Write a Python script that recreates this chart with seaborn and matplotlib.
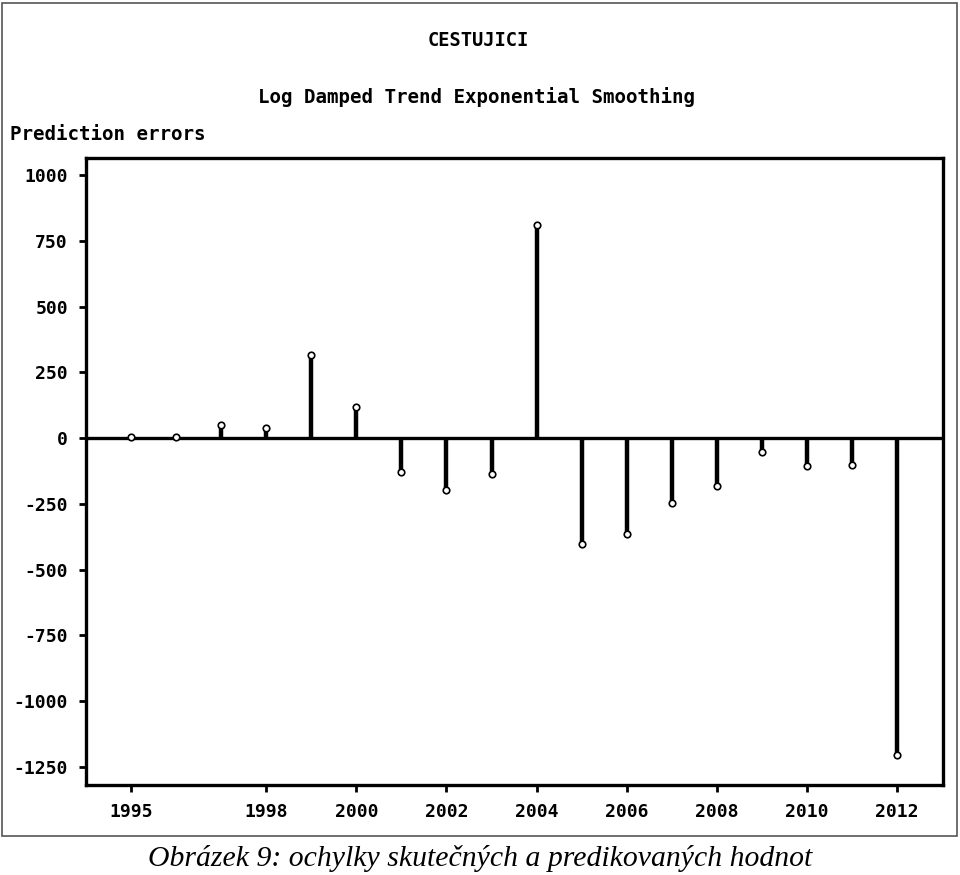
import matplotlib
matplotlib.use("Agg")
import matplotlib.pyplot as plt
import seaborn as sns
import pandas as pd
from matplotlib.patches import Rectangle

years = [1995, 1996, 1997, 1998, 1999, 2000, 2001, 2002, 2003,
         2004, 2005, 2006, 2007, 2008, 2009, 2010, 2011, 2012]
errors = [5, 3, 49, 38, 316, 118, -129, -198, -137,
          810, -403, -365, -247, -182, -53, -106, -103, -1205]
xticks = [1995, 1998, 2000, 2002, 2004, 2006, 2008, 2010, 2012]
yticks = [1000, 750, 500, 250, 0, -250, -500, -750, -1000, -1250]

df = pd.DataFrame({'year': years, 'error': errors})

sns.set_style("ticks")
plt.rcParams['font.family'] = ['DejaVu Sans Mono', 'DejaVu Sans']
plt.rcParams['text.color'] = 'black'

fig = plt.figure(figsize=(9.6, 8.75), dpi=100)
ax = fig.add_axes([86/960, 1-785/875, (943-86)/960, (785-158)/875])

ax.axhline(0, color='black', lw=2.4, zorder=1)
ax.vlines(df['year'], 0, df['error'], color='black', lw=3.2, zorder=2)
sns.scatterplot(data=df, x='year', y='error', ax=ax, marker='o', s=22,
                facecolor='white', edgecolor='black', linewidth=1.2, zorder=3)

ax.set_xlim(1994.0, 2013.02)
ax.set_ylim(-1319, 1065)
ax.set_xticks(xticks)
ax.set_yticks(yticks)
ax.set_xticklabels([str(t) for t in xticks], fontweight='bold', fontsize=13)
ax.set_yticklabels([str(t) for t in yticks], fontweight='bold', fontsize=13)
ax.tick_params(direction='out', length=5, width=2, pad=8, colors='black')
ax.set_xlabel('')
ax.set_ylabel('')
for s in ax.spines.values():
    s.set_visible(True)
    s.set_linewidth(2.4)
    s.set_color('black')

fig.text(478/960, 1-40/875, 'CESTUJICI', ha='center', va='center',
         fontsize=13.5, fontweight='bold')
fig.text(477/960, 1-97/875, 'Log Damped Trend Exponential Smoothing',
         ha='center', va='center', fontsize=13.8, fontweight='bold')
fig.text(10/960, 1-134/875, 'Prediction errors', ha='left', va='center',
         fontsize=13.8, fontweight='bold')

fig.patches.append(Rectangle((2/960, 1-836/875), 955/960, 833/875,
                             transform=fig.transFigure, fill=False,
                             edgecolor='#555555', lw=1.2))
fig.text(480/960, 1-858/875, 'Obrázek 9: ochylky skutečných a predikovaných hodnot',
         ha='center', va='center', fontsize=21.4, style='italic',
         family=['Liberation Serif', 'DejaVu Serif'])

fig.savefig('out.png', dpi=100)
